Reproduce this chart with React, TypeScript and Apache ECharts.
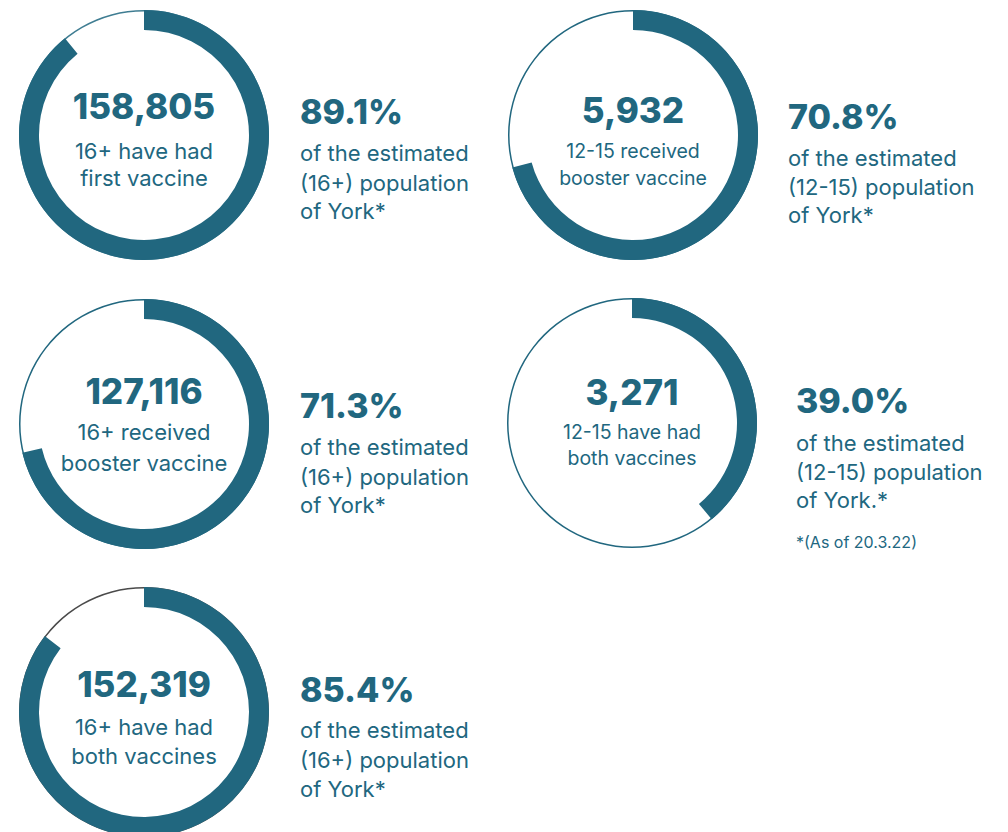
import React, { useEffect, useRef } from "react";
import * as echarts from "echarts";

// ---- data ----
const percentages = [89.1, 70.8, 71.3, 39.0, 85.4];
const counts = ["158,805", "5,932", "127,116", "3,271", "152,319"];
const centerLabels = [
  ["16+ have had", "first vaccine"],
  ["12-15 received", "booster vaccine"],
  ["16+ received", "booster vaccine"],
  ["12-15 have had", "both vaccines"],
  ["16+ have had", "both vaccines"],
];
const descLines = [
  ["of the estimated", "(16+) population", "of York*"],
  ["of the estimated", "(12-15) population", "of York*"],
  ["of the estimated", "(16+) population", "of York*"],
  ["of the estimated", "(12-15) population", "of York.*"],
  ["of the estimated", "(16+) population", "of York*"],
];
const footnote = "*(As of 20.3.22)";

// ---- layout / style ----
const TEAL = "#21677f";
const FONT = "Inter, 'Noto Sans', sans-serif";
const layout = [
  { cx: 144, cy: 135, numY: 106, lineY: [151, 178], sub: 22, tx: 300, pctY: 111, descY: [153, 183, 211], rest: "#3f7d92" },
  { cx: 633, cy: 135, numY: 110, lineY: [151, 178], sub: 19.5, tx: 788, pctY: 116, descY: [158, 187, 215], rest: TEAL },
  { cx: 144, cy: 424, numY: 391, lineY: [432, 463], sub: 22, tx: 300, pctY: 405, descY: [447, 477, 505], rest: TEAL },
  { cx: 632, cy: 423, numY: 392, lineY: [432, 458], sub: 19.5, tx: 796, pctY: 400, descY: [443, 472, 500], rest: TEAL },
  { cx: 144, cy: 712, numY: 684, lineY: [727, 756], sub: 22, tx: 300, pctY: 689, descY: [730, 760, 789], rest: "#4a4a4a" },
];

export default function App() {
  const ref = useRef<HTMLDivElement>(null);
  useEffect(() => {
    if (!ref.current) return;
    const chart = echarts.init(ref.current, undefined, { renderer: "svg" });
    const series: any[] = [];
    const graphic: any[] = [];
    percentages.forEach((p, i) => {
      const L = layout[i];
      series.push({
        type: "pie",
        silent: true,
        center: [L.cx, L.cy],
        radius: [123.5, 125],
        label: { show: false },
        labelLine: { show: false },
        emphasis: { disabled: true },
        data: [{ value: 100, itemStyle: { color: L.rest } }],
        z: 1,
      });
      series.push({
        type: "pie",
        silent: true,
        center: [L.cx, L.cy],
        radius: [105, 125],
        startAngle: 90,
        clockwise: true,
        label: { show: false },
        labelLine: { show: false },
        emphasis: { disabled: true },
        data: [
          { value: p, itemStyle: { color: TEAL } },
          { value: 100 - p, itemStyle: { color: "rgba(0,0,0,0)" } },
        ],
        z: 2,
      });
      graphic.push({
        type: "text",
        x: L.cx,
        y: L.numY,
        style: { text: counts[i], fill: TEAL, font: `800 35px ${FONT}`, align: "center", verticalAlign: "middle" },
      });
      centerLabels[i].forEach((t, j) => {
        graphic.push({
          type: "text",
          x: L.cx,
          y: L.lineY[j],
          style: { text: t, fill: TEAL, font: `400 ${L.sub}px ${FONT}`, align: "center", verticalAlign: "middle" },
        });
      });
      graphic.push({
        type: "text",
        x: L.tx,
        y: L.pctY,
        style: { text: p.toFixed(1) + "%", fill: TEAL, font: `800 34px ${FONT}`, align: "left", verticalAlign: "middle" },
      });
      descLines[i].forEach((t, j) => {
        graphic.push({
          type: "text",
          x: L.tx,
          y: L.descY[j],
          style: { text: t, fill: TEAL, font: `400 22px ${FONT}`, align: "left", verticalAlign: "middle" },
        });
      });
    });
    graphic.push({
      type: "text",
      x: 796,
      y: 542,
      style: { text: footnote, fill: TEAL, font: `400 16px ${FONT}`, align: "left", verticalAlign: "middle" },
    });
    chart.setOption({
      animation: false,
      backgroundColor: "#ffffff",
      series,
      graphic,
    });
    return () => chart.dispose();
  }, []);
  return (
    <div
      ref={ref}
      style={{ position: "absolute", left: 0, top: 0, width: 1008, height: 832 }}
    />
  );
}
